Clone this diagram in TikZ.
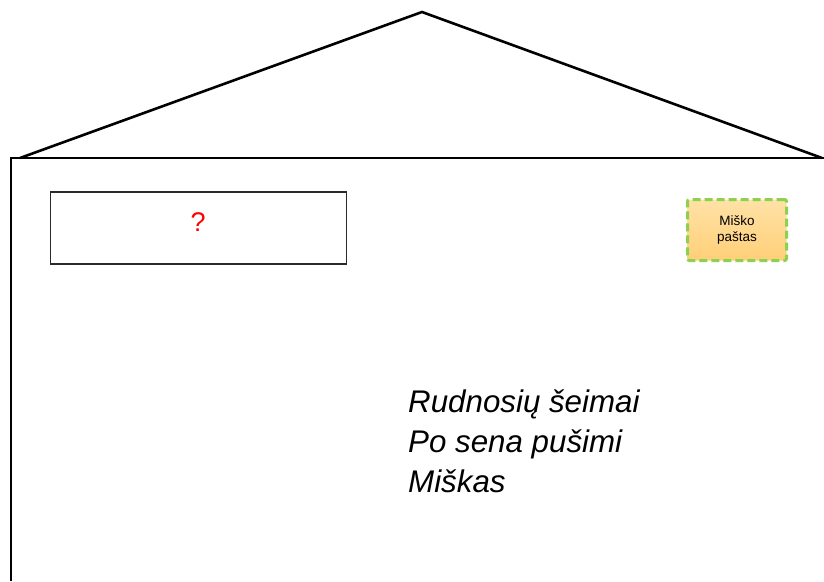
\documentclass[tikz,border=0pt]{standalone}
\usepackage{fontspec}
\setmainfont{Liberation Sans}
\definecolor{dashgreen}{HTML}{8CD14F}
\definecolor{boxtop}{HTML}{FFE2A6}
\definecolor{boxbot}{HTML}{FFCF78}
\definecolor{boxline}{HTML}{2A2A2A}
\begin{document}
\begin{tikzpicture}[x=1pt,y=-1pt,
  envline/.style={line width=2.6pt, draw=black},
  emptybox/.style={draw=boxline, line width=1.5pt, minimum width=296pt, minimum height=72pt, inner sep=0pt, anchor=north west},
  stampbox/.style={draw=dashgreen, line width=3pt, dash pattern=on 8pt off 4pt, rounded corners=2pt,
    top color=boxtop, bottom color=boxbot, minimum width=99pt, minimum height=61pt, inner sep=0pt,
    align=center, font=\fontsize{13.5}{16.5}\selectfont},
  addr/.style={align=left, anchor=base west, inner sep=0pt, font=\fontsize{31.3}{40}\selectfont\itshape}
]
\useasboundingbox (0,0) rectangle (824,581);
\coordinate (flapL) at (20,158);
\coordinate (apex) at (422,12);
\coordinate (flapR) at (822,158);
\coordinate (bodyBL) at (11,581);
\coordinate (bodyTL) at (11,158);
\coordinate (bodyTR) at (824,158);
\draw[envline, line join=miter] (flapL) -- (apex) -- (flapR);
\draw[envline] (bodyBL) -- (bodyTL) -- (bodyTR);
\node[emptybox] (qbox) at (49.5,191) {};
\node[text=red, font=\fontsize{27}{30}\selectfont] (qmark) at ([yshift=6pt]qbox.center) {?};
\node[stampbox] (stamp) at (737,230) {Miško\\paštas};
\node[addr] (address) at (408,492) {Rudnosių šeimai\\Po sena pušimi\\Miškas};
\end{tikzpicture}
\end{document}
